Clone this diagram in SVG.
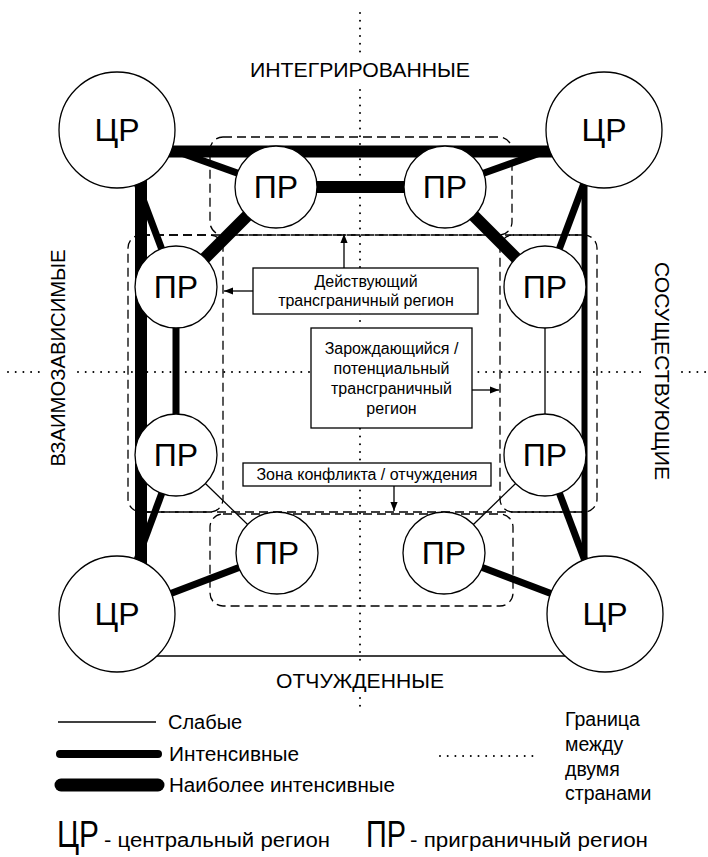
<svg xmlns="http://www.w3.org/2000/svg" width="708" height="857" viewBox="0 0 708 857">
<defs>
<style>
text{font-family:"Liberation Sans",Arial,sans-serif;fill:#000}
.dot{stroke:#000;stroke-width:2;stroke-linecap:round;stroke-dasharray:0 7.7;fill:none}
.zone{fill:none;stroke:#000;stroke-width:1.3;stroke-dasharray:9 5}
.w{stroke:#000;stroke-width:1.3;fill:none}
.i{stroke:#000;stroke-width:7;fill:none}
.m{stroke:#000;stroke-width:12;fill:none}
.node{fill:#fff;stroke:#000;stroke-width:1.3}
.lbl{font-size:32px;text-anchor:middle}
.box{fill:#fff;stroke:#000;stroke-width:1.3}
.bt{font-size:16px;text-anchor:middle}
.ax{font-size:20px;text-anchor:middle}
.lg{font-size:20px}
.arr{stroke:#000;stroke-width:1.3;fill:none;marker-end:url(#ah)}
</style>
<marker id="ah" viewBox="0 0 10 10" refX="10" refY="5" markerWidth="9" markerHeight="9" markerUnits="userSpaceOnUse" orient="auto">
<path d="M0,1 L10,5 L0,9 z" fill="#000"/>
</marker>
</defs>
<rect width="708" height="857" fill="#fff"/>

<g id="borders">
<line class="dot" x1="360" y1="13" x2="360" y2="53"/>
<line class="dot" x1="360" y1="90" x2="360" y2="660"/>
<line class="dot" x1="360" y1="698" x2="360" y2="706"/>
<line class="dot" x1="8" y1="372" x2="42" y2="372"/>
<line class="dot" x1="78" y1="372" x2="644" y2="372"/>
<line class="dot" x1="682" y1="372" x2="706" y2="372"/>
</g>

<g id="zones">
<rect class="zone" x="141" y="235" width="443" height="277"/>
<rect class="zone" x="210" y="137" width="302" height="98" rx="13"/>
<rect class="zone" x="128" y="235" width="95" height="277" rx="13"/>
<rect class="zone" x="500" y="235" width="97" height="277" rx="13"/>
<rect class="zone" x="210" y="514" width="303" height="92" rx="13"/>
</g>

<g id="connectors">
<line class="m" x1="117" y1="151.5" x2="604" y2="151.5"/>
<line class="m" x1="141" y1="130" x2="141" y2="614"/>
<line class="m" x1="276" y1="187" x2="445" y2="187"/>
<line class="m" x1="276" y1="187" x2="176" y2="287"/>
<line class="m" x1="445" y1="187" x2="545" y2="287"/>
<line class="i" x1="584.5" y1="130" x2="584.5" y2="614" style="stroke-width:6"/>
<line class="i" x1="117" y1="130" x2="276" y2="187"/>
<line class="i" x1="117" y1="130" x2="176" y2="287"/>
<line class="i" x1="604" y1="130" x2="445" y2="187"/>
<line class="i" x1="604" y1="130" x2="545" y2="287"/>
<line class="i" x1="176" y1="287" x2="176" y2="455"/>
<line class="i" x1="176" y1="455" x2="117" y2="614"/>
<line class="i" x1="545" y1="455" x2="605" y2="614"/>
<line class="i" x1="117" y1="614" x2="277" y2="553"/>
<line class="i" x1="605" y1="614" x2="444" y2="553"/>
<line class="w" x1="545" y1="287" x2="545" y2="455"/>
<line class="w" x1="176" y1="455" x2="277" y2="553"/>
<line class="w" x1="545" y1="455" x2="444" y2="553"/>
<line class="w" x1="117" y1="656" x2="605" y2="656"/>
</g>

<g id="cr-tl"><circle class="node" cx="117" cy="130" r="58"/><text class="lbl" x="117" y="141">ЦР</text></g>
<g id="cr-tr"><circle class="node" cx="604" cy="130" r="58"/><text class="lbl" x="604" y="141">ЦР</text></g>
<g id="cr-bl"><circle class="node" cx="117" cy="614" r="58"/><text class="lbl" x="117" y="625">ЦР</text></g>
<g id="cr-br"><circle class="node" cx="605" cy="614" r="58"/><text class="lbl" x="605" y="625">ЦР</text></g>

<g id="pr-t1"><circle class="node" cx="276" cy="187" r="41"/><text class="lbl" x="276" y="198">ПР</text></g>
<g id="pr-t2"><circle class="node" cx="445" cy="187" r="41"/><text class="lbl" x="445" y="198">ПР</text></g>
<g id="pr-l1"><circle class="node" cx="176" cy="287" r="41"/><text class="lbl" x="176" y="298">ПР</text></g>
<g id="pr-l2"><circle class="node" cx="176" cy="455" r="41"/><text class="lbl" x="176" y="466">ПР</text></g>
<g id="pr-r1"><circle class="node" cx="545" cy="287" r="41"/><text class="lbl" x="545" y="298">ПР</text></g>
<g id="pr-r2"><circle class="node" cx="545" cy="455" r="41"/><text class="lbl" x="545" y="466">ПР</text></g>
<g id="pr-b1"><circle class="node" cx="277" cy="553" r="41"/><text class="lbl" x="277" y="564">ПР</text></g>
<g id="pr-b2"><circle class="node" cx="444" cy="553" r="41"/><text class="lbl" x="444" y="564">ПР</text></g>

<g id="box-active">
<rect class="box" x="253" y="268" width="225" height="46"/>
<text class="bt" x="366" y="287">Действующий</text>
<text class="bt" x="366" y="306">трансграничный регион</text>
<line class="arr" x1="344" y1="268" x2="344" y2="234"/>
<line class="arr" x1="253" y1="291" x2="224" y2="291"/>
</g>

<g id="box-potential">
<rect class="box" x="311" y="328" width="161" height="100"/>
<text class="bt" x="391.5" y="354">Зарождающийся /</text>
<text class="bt" x="391.5" y="374">потенциальный</text>
<text class="bt" x="391.5" y="394">трансграничный</text>
<text class="bt" x="391.5" y="414">регион</text>
<line class="arr" x1="472" y1="390" x2="499" y2="390"/>
</g>

<g id="box-conflict">
<rect class="box" x="243" y="463" width="248" height="23"/>
<text class="bt" x="367" y="480">Зона конфликта / отчуждения</text>
<line class="arr" x1="394" y1="486" x2="394" y2="511"/>
</g>

<g id="axis-labels">
<text class="ax" x="360" y="77" textLength="220" lengthAdjust="spacingAndGlyphs">ИНТЕГРИРОВАННЫЕ</text>
<text class="ax" x="360" y="688" textLength="168" lengthAdjust="spacingAndGlyphs">ОТЧУЖДЕННЫЕ</text>
<text class="ax" transform="translate(65,358) rotate(-90)" x="0" y="0" textLength="217" lengthAdjust="spacingAndGlyphs">ВЗАИМОЗАВИСИМЫЕ</text>
<text class="ax" transform="translate(655,371) rotate(90)" x="0" y="0" textLength="218" lengthAdjust="spacingAndGlyphs">СОСУЩЕСТВУЮЩИЕ</text>
</g>

<g id="legend">
<line class="w" x1="58" y1="722" x2="156" y2="722"/>
<text class="lg" x="168" y="729">Слабые</text>
<line class="i" x1="60" y1="754" x2="158" y2="754" style="stroke-width:8;stroke-linecap:round"/>
<text class="lg" x="169" y="761" textLength="130" lengthAdjust="spacingAndGlyphs">Интенсивные</text>
<line class="m" x1="61" y1="785" x2="158" y2="785" style="stroke-width:13;stroke-linecap:round"/>
<text class="lg" x="169" y="792" textLength="226" lengthAdjust="spacingAndGlyphs">Наиболее интенсивные</text>
<line class="dot" x1="440" y1="756" x2="536" y2="756"/>
<text class="lg" x="565" y="726" style="font-size:19.5px">Граница</text>
<text class="lg" x="565" y="751" style="font-size:19.5px">между</text>
<text class="lg" x="565" y="776" style="font-size:19.5px">двумя</text>
<text class="lg" x="565" y="800" style="font-size:19.5px">странами</text>
<text x="57" y="847" style="font-size:36px" textLength="42" lengthAdjust="spacingAndGlyphs">ЦР</text>
<text x="104" y="847" style="font-size:20px" textLength="226" lengthAdjust="spacingAndGlyphs">- центральный регион</text>
<text x="366" y="847" style="font-size:36px" textLength="40" lengthAdjust="spacingAndGlyphs">ПР</text>
<text x="410" y="847" style="font-size:20px" textLength="238" lengthAdjust="spacingAndGlyphs">- приграничный регион</text>
</g>
</svg>
